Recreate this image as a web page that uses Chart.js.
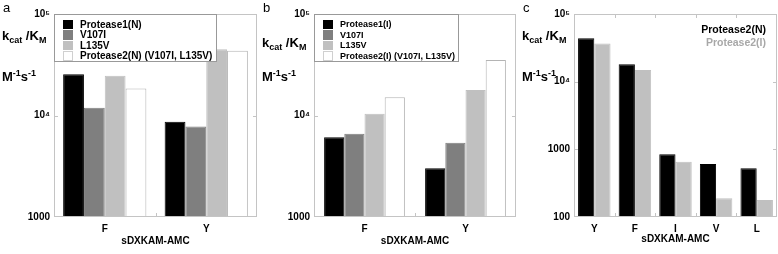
<!DOCTYPE html>
<html>
<head>
<meta charset="utf-8">
<script src="https://cdn.jsdelivr.net/npm/chart.js@4.4.1/dist/chart.umd.min.js"></script>
<style>
  body { margin: 0; background: #fff; font-family: "Liberation Sans", Arial, sans-serif; }
  #wrap { position: relative; width: 778px; height: 254px; overflow: hidden; }
  .panel { position: absolute; top: 0; height: 254px; }
  .panel canvas { position: absolute; left: 0; top: 0; }
  .letter { position: absolute; font-size: 13px; color: #000; }
  .ytitle { position: absolute; font-weight: bold; font-size: 13px; color: #000; white-space: nowrap; line-height: 1; }
  .ytitle sub { font-size: 9px; vertical-align: -3px; }
  .ytitle sup { font-size: 9px; vertical-align: 5px; }
  .legend { position: absolute; border: 1px solid #999; background: #fff; font-weight: bold; color: #000; }
  .legend .row { display: flex; align-items: center; white-space: nowrap; }
  .legend .sw { display: inline-block; box-sizing: border-box; }
  .legc { position: absolute; font-weight: bold; font-size: 10.5px; text-align: right; line-height: 12.5px; }
</style>
</head>
<body>
<div id="wrap"></div>
<script>
// categories
const substratesAB = ['F', 'Y'];
const substratesC = ['Y', 'F', 'I', 'V', 'L'];

// panel a (kcat/KM, M^-1 s^-1)
const protease1N = [25500, 8700];
const v107iN = [11900, 7800];
const l135vN = [24700, 45000];
const protease2N = [18400, 43400];

// panel b
const protease1I = [6100, 3030];
const v107iI = [6600, 5380];
const l135vI = [10400, 17800];
const protease2I = [15100, 35300];

// panel c
const p2N_c = [44000, 18100, 843, 607, 525];
const p2I_c = [36500, 14900, 656, 189, 179];

const tickText = { 100000: '10\u2075', 10000: '10\u2074', 1000: '1000', 100: '100' };

const FONT = '"Liberation Sans", Arial, sans-serif';
const BLACK = '#000000', DARK = '#7f7f7f', LIGHT = '#c0c0c0', WHITE = '#ffffff';

// frame + little inward ticks
const framePlugin = {
  id: 'frame',
  afterDraw(chart) {
    const { ctx, chartArea: a, scales } = chart;
    ctx.save();
    ctx.strokeStyle = '#c4c4c4';
    ctx.lineWidth = 1;
    ctx.strokeRect(a.left + 0.5, a.top + 0.5, a.right - a.left - 1, a.bottom - a.top - 1);
    ctx.beginPath();
    const y = scales.y;
    [100, 1000, 10000].forEach(v => {
      if (v <= y.min || v >= y.max) return;
      const py = Math.round(y.getPixelForValue(v)) + 0.5;
      ctx.moveTo(a.left, py); ctx.lineTo(a.left + 4, py);
      ctx.moveTo(a.right, py); ctx.lineTo(a.right - 4, py);
    });
    const x = scales.x;
    const n = chart.data.labels.length;
    for (let i = 1; i < n; i++) {
      const px = Math.round((x.getPixelForValue(i - 1) + x.getPixelForValue(i)) / 2) + 0.5;
      ctx.moveTo(px, a.bottom); ctx.lineTo(px, a.bottom - 4);
      ctx.moveTo(px, a.top); ctx.lineTo(px, a.top + 4);
    }
    ctx.stroke();
    ctx.restore();
  }
};

function makePanel(opts) {
  const div = document.createElement('div');
  div.className = 'panel';
  div.style.left = opts.left + 'px';
  div.style.width = opts.width + 'px';
  document.getElementById('wrap').appendChild(div);

  const canvas = document.createElement('canvas');
  canvas.width = opts.width;
  canvas.height = 254;
  div.appendChild(canvas);

  const letter = document.createElement('div');
  letter.className = 'letter';
  letter.textContent = opts.letter;
  letter.style.left = '3px';
  letter.style.top = '0px';
  div.appendChild(letter);

  const t1 = document.createElement('div');
  t1.className = 'ytitle';
  t1.innerHTML = 'k<sub>cat</sub> /K<sub>M</sub>';
  t1.style.left = '2px';
  t1.style.top = opts.titleTop + 'px';
  div.appendChild(t1);

  const t2 = document.createElement('div');
  t2.className = 'ytitle';
  t2.innerHTML = 'M<sup>-1</sup>s<sup>-1</sup>';
  t2.style.left = '2px';
  t2.style.top = (opts.titleTop + opts.titleGap) + 'px';
  div.appendChild(t2);

  const chart = new Chart(canvas, {
    type: 'bar',
    data: {
      labels: opts.labels,
      datasets: opts.datasets.map(d => ({
        label: d.label,
        data: d.data,
        backgroundColor: d.color,
        borderColor: d.border || d.color,
        borderWidth: 1,
        barPercentage: 1,
        categoryPercentage: opts.catPct
      }))
    },
    options: {
      responsive: false,
      animation: false,
      devicePixelRatio: 1,
      layout: { padding: { top: 14, right: opts.padRight, left: 0, bottom: 0 } },
      plugins: { legend: { display: false }, tooltip: { enabled: false } },
      scales: {
        x: {
          grid: { display: false, drawTicks: false },
          border: { display: false },
          ticks: { color: '#000', font: { family: FONT, size: 10, weight: 'bold' }, padding: 6 },
          title: { display: true, text: 'sDXKAM-AMC', color: '#000', font: { family: FONT, size: 10, weight: 'bold' }, padding: { top: 0, bottom: opts.xTitlePad } },
          afterFit(s) { s.height = 37; }
        },
        y: {
          type: 'logarithmic',
          min: opts.min,
          max: 100000,
          grid: { display: false, drawTicks: false },
          border: { display: false },
          ticks: {
            autoSkip: false,
            padding: 4,
            color: '#000',
            font: { family: FONT, size: 10, weight: 'bold' },
            callback: v => tickText[v] || ''
          },
          afterFit(s) { s.width = 54; }
        }
      }
    },
    plugins: [framePlugin]
  });

  if (opts.legend) {
    const lg = document.createElement('div');
    lg.className = 'legend';
    Object.assign(lg.style, opts.legend.style);
    opts.datasets.forEach(d => {
      const row = document.createElement('div');
      row.className = 'row';
      row.style.height = opts.legend.rowH + 'px';
      const sw = document.createElement('span');
      sw.className = 'sw';
      sw.style.width = '10px';
      sw.style.height = (opts.legend.rowH - 1) + 'px';
      sw.style.background = d.color;
      if (d.border) sw.style.border = '1px solid #d0d0d0';
      sw.style.marginRight = opts.legend.gap + 'px';
      row.appendChild(sw);
      const tx = document.createElement('span');
      tx.textContent = d.label;
      row.appendChild(tx);
      lg.appendChild(row);
    });
    div.appendChild(lg);
  }
  if (opts.textLegend) {
    const lg = document.createElement('div');
    lg.className = 'legc';
    lg.style.right = '12px';
    lg.style.top = '23px';
    opts.datasets.forEach(d => {
      const r = document.createElement('div');
      r.textContent = d.label;
      r.style.color = d.textColor;
      lg.appendChild(r);
    });
    div.appendChild(lg);
  }
  return chart;
}

makePanel({
  left: 0, width: 260, padRight: 3, letter: 'a', titleTop: 29, titleGap: 40,
  labels: substratesAB, catPct: 0.82, min: 1000, xTitlePad: 7,
  datasets: [
    { label: 'Protease1(N)', data: protease1N, color: BLACK },
    { label: 'V107I', data: v107iN, color: DARK },
    { label: 'L135V', data: l135vN, color: LIGHT },
    { label: 'Protease2(N) (V107I, L135V)', data: protease2N, color: WHITE, border: '#b4b4b4' }
  ],
  legend: {
    rowH: 10.5, gap: 7,
    style: { left: '54px', top: '14px', width: '163px', height: '48px', fontSize: '10px', paddingLeft: '8px', paddingTop: '4px', boxSizing: 'border-box' }
  }
});

makePanel({
  left: 260, width: 260, padRight: 4, letter: 'b', titleTop: 36, titleGap: 33,
  labels: substratesAB, catPct: 0.8, min: 1000, xTitlePad: 7,
  datasets: [
    { label: 'Protease1(I)', data: protease1I, color: BLACK },
    { label: 'V107I', data: v107iI, color: DARK },
    { label: 'L135V', data: l135vI, color: LIGHT },
    { label: 'Protease2(I) (V107I, L135V)', data: protease2I, color: WHITE, border: '#b4b4b4' }
  ],
  legend: {
    rowH: 10.5, gap: 7,
    style: { left: '54px', top: '14px', width: '145px', height: '48px', fontSize: '9px', paddingLeft: '8px', paddingTop: '4px', boxSizing: 'border-box' }
  }
});

makePanel({
  left: 520, width: 258, padRight: 1, letter: 'c', titleTop: 29, titleGap: 40,
  labels: substratesC, catPct: 0.8, min: 100, xTitlePad: 9,
  datasets: [
    { label: 'Protease2(N)', data: p2N_c, color: BLACK, textColor: '#000' },
    { label: 'Protease2(I)', data: p2I_c, color: LIGHT, textColor: '#a8a8a8' }
  ],
  textLegend: true
});
</script>
</body>
</html>
